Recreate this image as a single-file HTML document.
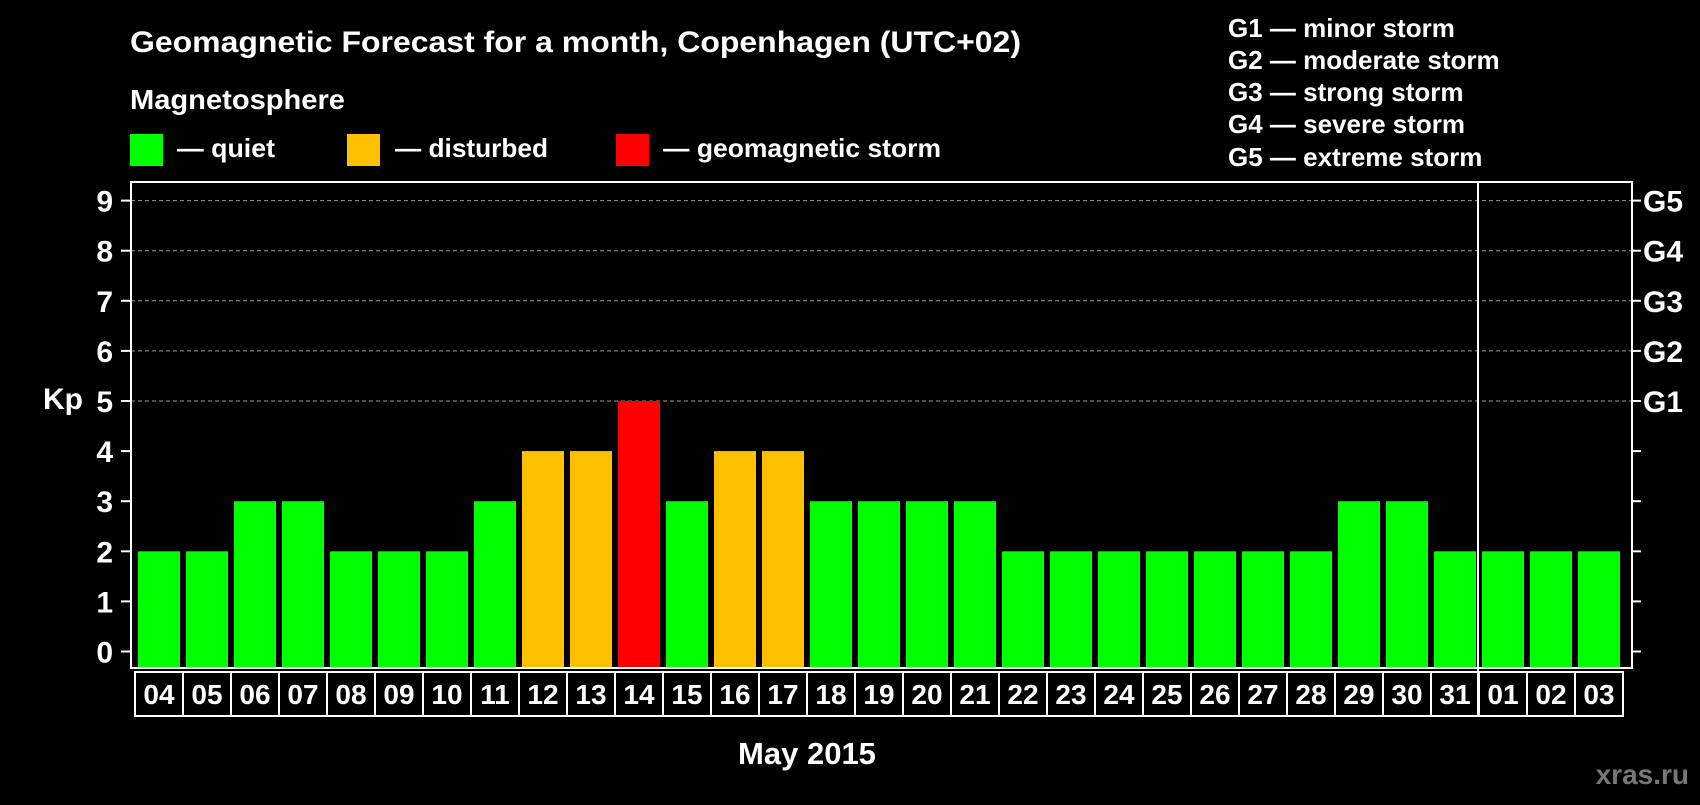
<!DOCTYPE html>
<html><head><meta charset="utf-8"><style>
body{margin:0;background:#000;width:1700px;height:800px;overflow:hidden}
svg text{font-family:"Liberation Sans",Arial,sans-serif;font-weight:bold;fill:#fff}
</style></head><body>
<svg id="c" width="1700" height="800">
<text x="130" y="52" font-size="30" textLength="891" lengthAdjust="spacingAndGlyphs">Geomagnetic Forecast for a month, Copenhagen (UTC+02)</text>
<text x="130" y="109" font-size="28" textLength="215" lengthAdjust="spacingAndGlyphs">Magnetosphere</text>
<rect x="130" y="134" width="33" height="32" fill="#00ff00"/>
<text x="177" y="157" font-size="26" textLength="98" lengthAdjust="spacingAndGlyphs">— quiet</text>
<rect x="347" y="134" width="33" height="32" fill="#ffc000"/>
<text x="395" y="157" font-size="26" textLength="153" lengthAdjust="spacingAndGlyphs">— disturbed</text>
<rect x="616" y="134" width="33" height="32" fill="#ff0000"/>
<text x="663" y="157" font-size="26" textLength="278" lengthAdjust="spacingAndGlyphs">— geomagnetic storm</text>
<g font-size="26">
<text x="1228" y="37">G1 — minor storm</text>
<text x="1228" y="69">G2 — moderate storm</text>
<text x="1228" y="101">G3 — strong storm</text>
<text x="1228" y="133">G4 — severe storm</text>
<text x="1228" y="166">G5 — extreme storm</text>
</g>
<text x="63" y="409" font-size="30" text-anchor="middle">Kp</text>
<text x="807" y="764" font-size="31" text-anchor="middle">May 2015</text>
<text x="1689" y="784" font-size="28" text-anchor="end" style="fill:#777">xras.ru</text>
<g id="plot"></g>
</svg>
<script>
const days=["04","05","06","07","08","09","10","11","12","13","14","15","16","17","18","19","20","21","22","23","24","25","26","27","28","29","30","31","01","02","03"];
const kp=[2,2,3,3,2,2,2,3,4,4,5,3,4,4,3,3,3,3,2,2,2,2,2,2,2,3,3,2,2,2,2];
const yTicks=[0,1,2,3,4,5,6,7,8,9];
const gLabels=["G1","G2","G3","G4","G5"];
const NS="http://www.w3.org/2000/svg";
const g=document.getElementById('plot');
const X0=133,SLOT=48,Y0=651.5,UNIT=50.1,TOP=182,BOT=668,RIGHT=1632,LEFT=131;
const y=v=>Y0-v*UNIT;
const x=i=>X0+i*SLOT;
function mk(t,a){const e=document.createElementNS(NS,t);for(const k in a)e.setAttribute(k,a[k]);g.appendChild(e);return e;}
yTicks.forEach(v=>{
  if(v>=5){const l=mk('line',{x1:LEFT,x2:RIGHT,y1:y(v),y2:y(v),stroke:'#999','stroke-dasharray':'4,3','stroke-width':1});
  
  }
  const t=mk('line',{x1:121,x2:LEFT,y1:y(v),y2:y(v),stroke:'#fff','stroke-width':2});
  
  
  const r=mk('line',{x1:RIGHT,x2:1641,y1:y(v),y2:y(v),stroke:'#fff','stroke-width':2});
  
  
  const tx=mk('text',{x:113,y:y(v)+11,'font-size':30,'text-anchor':'end'});tx.textContent=v;
  
  
});
gLabels.forEach((s,i)=>{
  const tx=mk('text',{x:1643,y:y(5+i)+11,'font-size':30});tx.textContent=s;
  
  
});
kp.forEach((v,i)=>{
  const c=v>=5?'#ff0000':v>=4?'#ffc000':'#00ff00';
  const b=mk('rect',{x:x(i)+5,y:y(v),width:42,height:BOT-1-y(v),fill:c});
  
  
  const bx=mk('rect',{x:x(i)+2,y:BOT+4,width:SLOT,height:44,fill:'none',stroke:'#fff','stroke-width':2});
  
  
  const t=mk('text',{x:x(i)+26,y:BOT+36,'font-size':28,'text-anchor':'middle'});t.textContent=days[i];
  
  
});
const f=mk('rect',{x:LEFT,y:TOP,width:RIGHT-LEFT,height:BOT-TOP,fill:'none',stroke:'#fff','stroke-width':2});


const sep=mk('line',{x1:x(28)+1,x2:x(28)+1,y1:TOP,y2:BOT+48,stroke:'#fff','stroke-width':2});


</script>
</body></html>
